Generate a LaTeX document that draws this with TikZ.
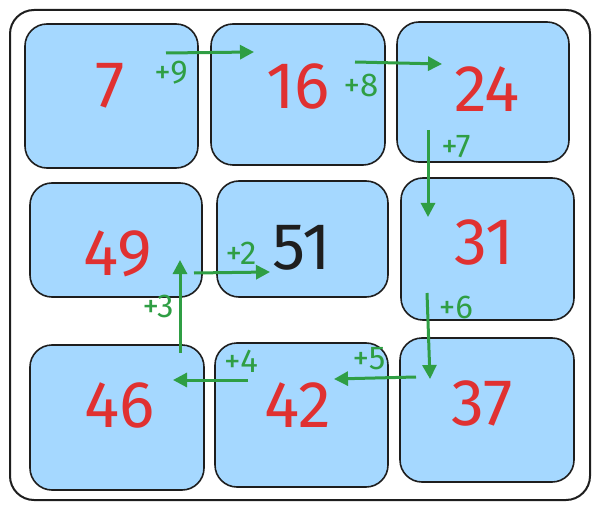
\documentclass[tikz,border=0pt]{standalone}
\usepackage{fontspec}
\setmainfont{Fira Sans}
\usetikzlibrary{arrows.meta}
\definecolor{cred}{HTML}{E03131}
\definecolor{cgreen}{HTML}{2F9E44}
\definecolor{cblue}{HTML}{A5D8FF}
\definecolor{cblack}{HTML}{1E1E1E}
\tikzset{
  cell/.style={draw=cblack, line width=1.6pt, fill=cblue, rounded corners=22pt},
  frame/.style={draw=cblack, line width=2pt, rounded corners=24pt},
  num/.style={font=\fontsize{66}{66}\selectfont, text=cred, inner sep=0pt},
  numk/.style={font=\fontsize{66}{66}\selectfont, text=cblack, inner sep=0pt},
  lab/.style={font=\fontsize{33}{33}\selectfont, text=cgreen, inner sep=0pt},
  arr/.style={draw=cgreen, line width=3pt, -{Triangle[length=14pt,width=14pt]}}
}
\begin{document}
\begin{tikzpicture}[x=1pt,y=-1pt]
\useasboundingbox (0,0) rectangle (601,510);
\draw[frame] (10,10) rectangle (590,500);
% cells
\draw[cell] (25,24) rectangle (198,168);
\draw[cell] (211,24) rectangle (385,165);
\draw[cell] (397,22) rectangle (569,162);
\draw[cell] (30,183) rectangle (202,297);
\draw[cell] (217,181) rectangle (388,297);
\draw[cell] (401,178) rectangle (574,320);
\draw[cell] (30,345) rectangle (204,490);
\draw[cell] (215,343) rectangle (388,487);
\draw[cell] (400,338) rectangle (574,482);
% numbers
\node[num] (n7) at (110,86) {7};
\node[num] (n16) at (298,86) {16};
\node[num] (n24) at (487,89) {24};
\node[num] (n49) at (118,254) {49};
\node[numk] (n51) at (302,248) {51};
\node[num] (n31) at (484,242) {31};
\node[num] (n46) at (120,405) {46};
\node[num] (n42) at (298,405) {42};
\node[num] (n37) at (482,403) {37};
% arrow end points
\coordinate (a9s) at (166,53); \coordinate (a9e) at (254,52);
\coordinate (a8s) at (355,62); \coordinate (a8e) at (442,64);
\coordinate (a7s) at (428,130); \coordinate (a7e) at (428,217);
\coordinate (a6s) at (427,293); \coordinate (a6e) at (430,379);
\coordinate (a5s) at (416,377); \coordinate (a5e) at (334,379);
\coordinate (a4s) at (248,380); \coordinate (a4e) at (173,380);
\coordinate (a3s) at (180,353); \coordinate (a3e) at (180,260);
\coordinate (a2s) at (194,273); \coordinate (a2e) at (270,272);
\draw[arr] (a9s) -- (a9e);
\draw[arr] (a8s) -- (a8e);
\draw[arr] (a7s) -- (a7e);
\draw[arr] (a6s) -- (a6e);
\draw[arr] (a5s) -- (a5e);
\draw[arr] (a4s) -- (a4e);
\draw[arr] (a3s) -- (a3e);
\draw[arr] (a2s) -- (a2e);
% labels
\node[lab] (l9) at (171,73) {+9};
\node[lab] (l8) at (361,85) {+8};
\node[lab] (l7) at (456,147) {+7};
\node[lab] (l6) at (456,307) {+6};
\node[lab] (l5) at (369,359) {+5};
\node[lab] (l4) at (241,361) {+4};
\node[lab] (l3) at (158,306) {+3};
\node[lab] (l2) at (241,253) {+2};
\end{tikzpicture}
\end{document}
